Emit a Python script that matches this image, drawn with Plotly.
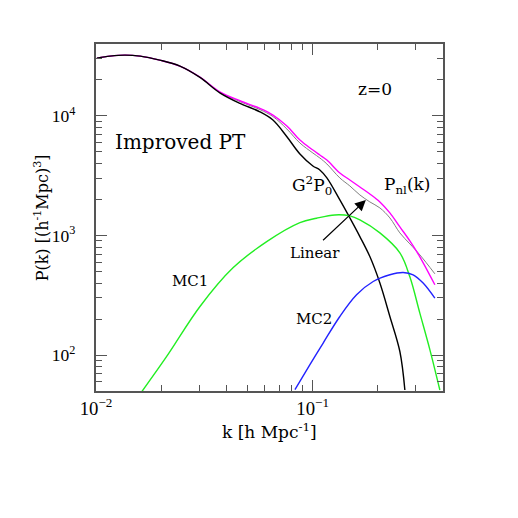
import numpy as np
import plotly.graph_objects as go

# k grid shared by the non-linear, linear and G^2 P0 curves [h/Mpc]
k_main = [0.0101, 0.0116, 0.0136, 0.0160, 0.0197, 0.0244, 0.0302, 0.0373, 0.0462,
          0.0571, 0.0656, 0.0761, 0.0874, 0.1003, 0.108, 0.1164, 0.1336, 0.1486,
          0.1653, 0.1838, 0.2045, 0.2274, 0.2529, 0.2812, 0.3127, 0.3668]
p_nl = [30460, 31660, 32280, 31660, 29310, 26120, 21130, 15930, 13400,
        11570, 10170, 8230, 6290, 5190, 4715, 4281, 3334, 2914,
        2547, 2226, 1909, 1545, 1180, 901, 663, 387]
p_lin = [30460, 31660, 32280, 31660, 29310, 26120, 21100, 15830, 13190,
         11310, 9886, 7774, 5937, 4898, 4450, 3965, 3029, 2597,
         2184, 1909, 1701, 1403, 1051, 851, 689, 478]

k_g2p0 = [0.0101, 0.0116, 0.0136, 0.0160, 0.0197, 0.0244, 0.0302, 0.0373, 0.0462,
          0.0571, 0.0656, 0.0761, 0.0874, 0.1003, 0.108, 0.1164, 0.1336, 0.1486,
          0.1653, 0.1838, 0.2045, 0.2274, 0.2529, 0.2667]
p_g2p0 = [30460, 31660, 32280, 31660, 29310, 26120, 21010, 15620, 12740,
          10840, 9243, 6702, 4806, 3814, 3532, 3029, 1983, 1403,
          979, 666, 400, 210, 107, 51]

k_mc1 = [0.0163, 0.0212, 0.0302, 0.0429, 0.0614, 0.0874, 0.1043, 0.1267, 0.1486,
         0.1653, 0.2045, 0.2529, 0.2812, 0.3127, 0.3478, 0.3868]
p_mc1 = [49.6, 97.3, 254.7, 536, 889, 1282, 1395, 1486, 1458,
         1350, 1051, 716, 451, 224, 111, 51]

k_mc2 = [0.0829, 0.0972, 0.1119, 0.1336, 0.1596, 0.1904, 0.2274, 0.2619, 0.2912,
         0.3238, 0.3668]
p_mc2 = [51.3, 83, 126, 210, 319, 412, 469, 490, 469, 400, 299]

SERIF = 'DejaVu Serif'

fig = go.Figure()
curves = [
    (k_main, p_lin, '#808080', 1.0),
    (k_main, p_nl, '#ff00ff', 1.4),
    (k_g2p0, p_g2p0, '#000000', 1.4),
    (k_mc1, p_mc1, '#22ee22', 1.4),
    (k_mc2, p_mc2, '#2222ff', 1.4),
]
for k, p, color, width in curves:
    fig.add_trace(go.Scatter(
        x=k, y=p, mode='lines',
        line=dict(color=color, width=width, shape='spline', smoothing=1.0),
    ))

axis_common = dict(
    type='log',
    showgrid=False,
    zeroline=False,
    showline=True,
    linecolor='#555555',
    linewidth=1.5,
    mirror='allticks',
    ticks='inside',
    ticklen=11,
    tickwidth=1.3,
    tickcolor='#555555',
    dtick=1,
    exponentformat='power',
    minor=dict(ticks='inside', ticklen=6, tickwidth=1.2, tickcolor='#555555', dtick='D1', showgrid=False),
)

fig.update_xaxes(range=[np.log10(0.01), np.log10(0.4)],
                 tickfont=dict(family='Liberation Serif', size=15, color='black'), **axis_common)
fig.update_yaxes(range=[np.log10(50), np.log10(40000)], ticklabelstandoff=16,
                 tickfont=dict(family='Liberation Serif', size=14, color='black'), **axis_common)

annotations = [
    dict(text='z=0', x=0.804, y=0.870, size=17),
    dict(text='Improved PT', x=0.049, y=0.7176, size=20, xanchor='left'),
    dict(text='G<sup>2</sup>P<sub>0</sub>', x=0.6225, y=0.591, size=17),
    dict(text='P<sub>nl</sub>(k)', x=0.899, y=0.591, size=17),
    dict(text='Linear', x=0.631, y=0.398, size=15),
    dict(text='MC1', x=0.271, y=0.317, size=15),
    dict(text='MC2', x=0.628, y=0.2075, size=15),
    dict(text='k [h Mpc<sup>-1</sup>]', x=0.5, y=-0.115, size=17),
]
for a in annotations:
    fig.add_annotation(
        text=a['text'], x=a['x'], y=a['y'], xref='paper', yref='paper',
        xanchor=a.get('xanchor', 'center'), yanchor='middle', showarrow=False,
        font=dict(family=SERIF, size=a['size'], color='black'),
    )
fig.add_annotation(
    text='P(k) [(h<sup>-1</sup>Mpc)<sup>3</sup>]', x=-0.156, y=0.5, xref='paper', yref='paper',
    xanchor='center', yanchor='middle',
    textangle=-90, showarrow=False, font=dict(family=SERIF, size=16, color='black'),
)

# arrow pointing from the "Linear" label to the linear curve
fig.add_annotation(
    x=np.log10(0.1762), y=np.log10(1983), ax=np.log10(0.110), ay=np.log10(889),
    xref='x', yref='y', axref='x', ayref='y', text='', showarrow=True,
    arrowhead=2, arrowsize=1.8, arrowwidth=1.2, arrowcolor='black',
)

# page body adds an 8px offset, so the figure is drawn 8px smaller
fig.update_layout(
    width=510, height=510,
    margin=dict(l=88, r=75, t=36, b=127),
    plot_bgcolor='white', paper_bgcolor='white',
    showlegend=False,
)

fig.write_html('out.html')
